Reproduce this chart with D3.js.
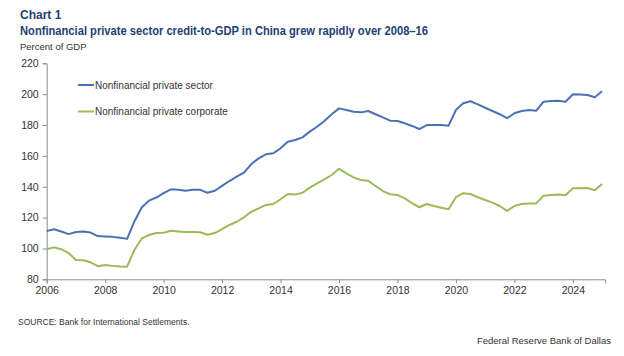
<!DOCTYPE html>
<html><head><meta charset="utf-8">
<script src="https://cdn.jsdelivr.net/npm/d3@7"></script>
<style>
html,body{margin:0;padding:0;background:#fff;}
svg{display:block;font-family:"Liberation Sans",Arial,sans-serif;}
</style></head>
<body>
<svg id="c" width="624" height="356"></svg>
<script>
// Quarterly data, 2006Q1 .. 2025Q1
const startYear = 2006;
const privateSector = [
  111.3,112.4,111.0,109.3, 110.7,111.0,110.3,108.0, 107.8,107.5,107.0,106.2,
  117.5,126.5,131.0,133.0, 135.8,138.3,138.0,137.4, 138.0,138.0,136.1,137.4,
  140.5,143.7,146.5,149.1, 154.7,158.4,161.0,161.7, 164.9,169.2,170.3,172.0,
  175.7,178.9,182.6,187.0, 190.8,189.7,188.6,188.2, 189.1,187.0,185.0,182.8,
  182.6,181.1,179.4,177.4, 180.0,180.0,180.0,179.6, 189.7,194.1,195.4,193.4,
  191.2,189.1,187.0,184.4, 187.6,189.1,189.7,189.3, 195.1,195.5,195.8,195.1,
  199.9,199.7,199.5,198.0, 201.9
];
const privateCorporate = [
  99.5,100.7,99.5,97.0, 92.5,92.3,91.0,88.5, 89.2,88.7,88.3,88.2,
  99.0,106.5,108.7,110.0, 110.2,111.5,111.0,110.6, 110.6,110.5,108.9,110.0,
  112.6,115.2,117.3,120.2, 123.8,126.0,128.2,128.8, 131.9,135.3,134.9,136.1,
  139.4,142.2,144.8,147.6, 151.7,148.7,146.1,144.4, 143.9,140.5,137.2,135.1,
  134.7,132.5,129.3,126.7, 128.8,127.5,126.4,125.4, 133.2,135.8,135.3,133.2,
  131.4,129.7,127.5,124.3, 127.5,128.8,129.2,129.2, 134.2,134.7,134.9,134.5,
  139.0,139.0,139.2,137.7, 141.8
];
const seriesNames = ["Nonfinancial private sector", "Nonfinancial private corporate"];
const seriesColors = ["#4a72b5", "#9bbb59"];
const xTicks = [2006,2008,2010,2012,2014,2016,2018,2020,2022,2024];
const yTicks = [80,100,120,140,160,180,200,220];

const svg = d3.select("#c");
const x = d3.scaleLinear().domain([2006, 2025.1]).range([46.7, 605]);
const y = d3.scaleLinear().domain([80, 220]).range([279.3, 63.3]);

// titles
svg.append("text").attr("x",20).attr("y",19).attr("fill","#1f3f75")
  .attr("font-weight","bold").attr("font-size",12).text("Chart 1");
svg.append("text").attr("x",20).attr("y",35).attr("fill","#1f3f75")
  .attr("font-weight","bold").attr("font-size",12).attr("textLength",408).attr("lengthAdjust","spacingAndGlyphs")
  .text("Nonfinancial private sector credit-to-GDP in China grew rapidly over 2008–16");
svg.append("text").attr("x",20).attr("y",50).attr("fill","#333")
  .attr("font-size",9.5).text("Percent of GDP");

// axes
const axisColor = "#8c8c8c";
const gy = svg.append("g").attr("transform",`translate(${x(2006)},0)`)
  .call(d3.axisLeft(y).tickValues(yTicks).tickSize(4).tickPadding(4).tickFormat(d3.format("d")));
const gx = svg.append("g").attr("transform",`translate(0,${y(80)})`)
  .call(d3.axisBottom(x).tickValues(xTicks).tickSize(4).tickPadding(3).tickFormat(d3.format("d")));
[gx,gy].forEach(g=>{
  g.select(".domain").attr("stroke",axisColor);
  g.selectAll(".tick line").attr("stroke",axisColor);
  g.selectAll(".tick text").attr("fill","#333").attr("font-size",10.5)
   .attr("font-family","Liberation Sans, Arial, sans-serif");
});

// lines
const line = d3.line().x((d,i)=>x(startYear + i/4)).y(d=>y(d));
[privateSector, privateCorporate].forEach((s,k)=>{
  svg.append("path").datum(s).attr("d",line).attr("fill","none")
    .attr("stroke",seriesColors[k]).attr("stroke-width",2).attr("stroke-linejoin","round");
});

// legend
const legY = [85, 111.5];
seriesNames.forEach((n,k)=>{
  svg.append("line").attr("x1",78).attr("x2",94).attr("y1",legY[k]).attr("y2",legY[k])
    .attr("stroke",seriesColors[k]).attr("stroke-width",2);
  svg.append("text").attr("x",95).attr("y",legY[k]+3.5).attr("fill","#333")
    .attr("font-size",10).text(n);
});

// footer
svg.append("text").attr("x",18).attr("y",325).attr("fill","#333")
  .attr("font-size",8.5).text("SOURCE: Bank for International Settlements.");
svg.append("text").attr("x",611).attr("y",344).attr("text-anchor","end").attr("fill","#333")
  .attr("font-size",9.5).text("Federal Reserve Bank of Dallas");
</script>
</body></html>
